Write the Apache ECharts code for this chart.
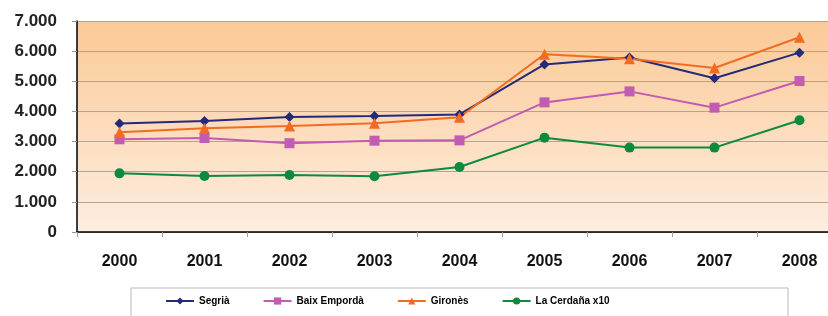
<!DOCTYPE html>
<html>
<head>
<meta charset="utf-8">
<script src="https://cdn.jsdelivr.net/npm/echarts@6/dist/echarts.min.js"></script>
<style>
html, body { margin: 0; padding: 0; background: #fff; }
#chart { width: 828px; height: 316px; }
</style>
</head>
<body>
<div id="chart"></div>
<script>
var years = ['2000', '2001', '2002', '2003', '2004', '2005', '2006', '2007', '2008'];
var segria = [3600, 3680, 3815, 3850, 3900, 5560, 5790, 5100, 5950];
var baixEmporda = [3075, 3120, 2945, 3030, 3040, 4300, 4665, 4125, 5010];
var girones = [3310, 3440, 3515, 3605, 3805, 5895, 5750, 5440, 6460];
var cerdanya = [1945, 1860, 1890, 1850, 2155, 3130, 2800, 2800, 3705];

var chart = echarts.init(document.getElementById('chart'));

function serie(name, data, color, symbol, size) {
    return {
        name: name,
        type: 'line',
        data: data,
        symbol: symbol,
        symbolSize: size,
        showSymbol: true,
        lineStyle: { color: color, width: 2 },
        itemStyle: { color: color, borderWidth: 0 },
        animation: false
    };
}

var option = {
    backgroundColor: '#fff',
    textStyle: { fontFamily: 'Liberation Sans, Arial, sans-serif' },
    grid: {
        left: 77,
        top: 21,
        width: 765,
        height: 211,
        outerBoundsMode: 'none'
    },
    legend: {
        left: 160,
        top: 291,
        itemWidth: 28,
        itemHeight: 9,
        itemGap: 33,
        textStyle: { fontSize: 10, fontWeight: 'bold', color: '#000' },
        data: ['Segrià', 'Baix Empordà', 'Gironès', 'La Cerdaña x10']
    },
    graphic: [{
        type: 'rect',
        z: -1,
        shape: { x: 131, y: 288, width: 657, height: 40 },
        style: { fill: '#fff', stroke: '#b8b8b8', lineWidth: 1 }
    }, {
        type: 'rect',
        z: -2,
        silent: true,
        shape: { x: 77, y: 21, width: 765, height: 211 },
        style: {
            fill: new echarts.graphic.LinearGradient(0, 0, 0, 1, [
                { offset: 0, color: '#fbc996' },
                { offset: 1, color: '#fdeee0' }
            ])
        }
    }],
    xAxis: {
        type: 'category',
        data: years,
        boundaryGap: true,
        axisLine: { lineStyle: { color: '#000', width: 1.5 } },
        axisTick: { show: true, length: 5, lineStyle: { color: '#999' } },
        axisLabel: { margin: 22, fontSize: 16, fontWeight: 'bold', color: '#111' },
        splitLine: { show: false }
    },
    yAxis: {
        type: 'value',
        min: 0,
        max: 7000,
        interval: 1000,
        axisLine: { show: true, lineStyle: { color: '#000', width: 1.5 } },
        axisTick: { show: true, length: 5, lineStyle: { color: '#999' } },
        axisLabel: {
            margin: 20,
            fontSize: 17,
            fontWeight: 'bold',
            color: '#222',
            formatter: function (v) {
                return v === 0 ? '0' : (v / 1000) + '.000';
            }
        },
        splitLine: { lineStyle: { color: '#b3a393', width: 1 } }
    },
    series: [
        serie('Segrià', segria, '#232a7a', 'diamond', 10),
        serie('Baix Empordà', baixEmporda, '#c25bb2', 'rect', 10),
        serie('Gironès', girones, '#f26b22', 'triangle', 11),
        serie('La Cerdaña x10', cerdanya, '#0d8a3e', 'circle', 10)
    ]
};

chart.setOption(option);

window.onresize = function () {
    chart.resize();
};
</script>
</body>
</html>
